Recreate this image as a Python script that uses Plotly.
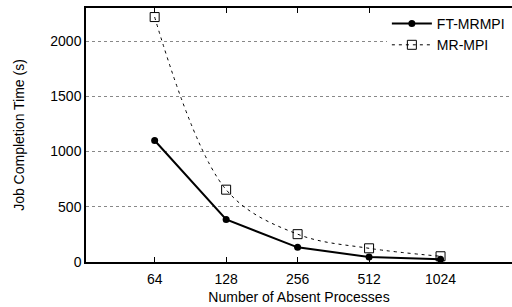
import plotly.graph_objects as go

processes = [64, 128, 256, 512, 1024]
tick_labels = ["64", "128", "256", "512", "1024"]
ft_mrmpi = [1100, 385, 133, 45, 25]
mr_mpi = [2218, 655, 252, 124, 52]
y_ticks = [0, 500, 1000, 1500, 2000]

fig = go.Figure()
fig.add_trace(go.Scatter(
    x=processes, y=ft_mrmpi, name="FT-MRMPI", mode="lines+markers",
    line=dict(color="black", width=2),
    marker=dict(symbol="circle", size=7, color="black"),
))
fig.add_trace(go.Scatter(
    x=processes, y=mr_mpi, name="MR-MPI", mode="lines+markers",
    line=dict(color="black", width=1, dash="3px,4px", shape="spline", smoothing=1.0),
    marker=dict(symbol="square-open", size=9, color="black", line=dict(width=1)),
))

font = dict(family="Liberation Sans, Arial, sans-serif", size=14, color="black")
fig.update_layout(
    width=512, height=307,
    margin=dict(l=86, r=0, t=8, b=45),
    plot_bgcolor="white", paper_bgcolor="white",
    font=font,
    showlegend=True,
    legend=dict(x=0.995, y=1, xanchor="right", yanchor="top", bgcolor="white",
                font=dict(size=14), tracegroupgap=0, itemwidth=40,
                borderwidth=0),
    xaxis=dict(
        type="log", range=[1.517, 3.3113],
        tickvals=processes, ticktext=tick_labels,
        ticks="inside", ticklen=5, tickcolor="black", ticklabelstandoff=3,
        showline=True, linecolor="black", linewidth=1.5, mirror="ticks",
        showgrid=False, zeroline=False,
        title=dict(text="Number of Absent Processes", font=dict(size=14), standoff=7),
    ),
    yaxis=dict(
        range=[0, 2300], tickvals=y_ticks, tickformat="d",
        ticks="", showline=True, linecolor="black", linewidth=1.5, mirror=False,
        showgrid=True, gridcolor="#888888", griddash="dot", gridwidth=1,
        zeroline=False,
        title=dict(text="Job Completion Time (s)", font=dict(size=14), standoff=22),
    ),
)
fig.write_html(
    "out.html",
    config={"displayModeBar": False},
    post_script=(
        "document.body.style.margin='0px';"
        "document.body.style.overflow='hidden';"
        "document.documentElement.style.overflow='hidden';"
    ),
)
